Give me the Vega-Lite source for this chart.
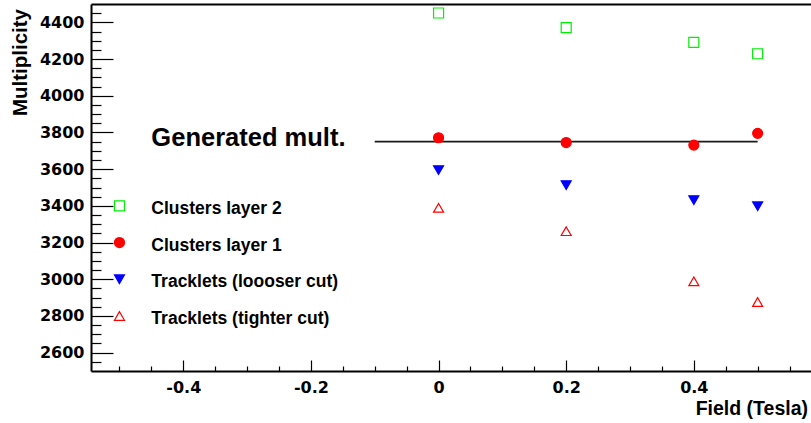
{
  "$schema": "https://vega.github.io/schema/vega-lite/v6.json",
  "width": 720,
  "height": 367,
  "autosize": "none",
  "padding": {"left": 91, "top": 4, "right": 0, "bottom": 52},
  "background": "white",
  "config": {
    "view": {"stroke": null},
    "axis": {
      "grid": false,
      "labelFont": "DejaVu Sans",
      "labelFontWeight": "bold",
      "labelFontSize": 16,
      "labelColor": "black",
      "titleFont": "Liberation Sans",
      "titleFontWeight": "bold",
      "titleColor": "black",
      "domainColor": "black",
      "tickColor": "black"
    }
  },
  "datasets": {
    "points": [
      {"series": "Clusters layer 2", "field": 0, "mult": 4451},
      {"series": "Clusters layer 2", "field": 0.2, "mult": 4371},
      {"series": "Clusters layer 2", "field": 0.4, "mult": 4291},
      {"series": "Clusters layer 2", "field": 0.5, "mult": 4229},
      {"series": "Clusters layer 1", "field": 0, "mult": 3771},
      {"series": "Clusters layer 1", "field": 0.2, "mult": 3745},
      {"series": "Clusters layer 1", "field": 0.4, "mult": 3731},
      {"series": "Clusters layer 1", "field": 0.5, "mult": 3795},
      {"series": "Tracklets (loooser cut)", "field": 0, "mult": 3595},
      {"series": "Tracklets (loooser cut)", "field": 0.2, "mult": 3513},
      {"series": "Tracklets (loooser cut)", "field": 0.4, "mult": 3431},
      {"series": "Tracklets (loooser cut)", "field": 0.5, "mult": 3398},
      {"series": "Tracklets (tighter cut)", "field": 0, "mult": 3389},
      {"series": "Tracklets (tighter cut)", "field": 0.2, "mult": 3262},
      {"series": "Tracklets (tighter cut)", "field": 0.4, "mult": 2989},
      {"series": "Tracklets (tighter cut)", "field": 0.5, "mult": 2876}
    ],
    "legend": [
      {"series": "Clusters layer 2", "field": -0.5, "labelField": -0.45, "mult": 3400},
      {"series": "Clusters layer 1", "field": -0.5, "labelField": -0.45, "mult": 3200},
      {"series": "Tracklets (loooser cut)", "field": -0.5, "labelField": -0.45, "mult": 3000},
      {"series": "Tracklets (tighter cut)", "field": -0.5, "labelField": -0.45, "mult": 2800}
    ],
    "generated": [
      {"label": "Generated mult.", "field": -0.1, "field2": 0.5, "mult": 3750, "labelField": -0.45, "labelMult": 3770}
    ]
  },
  "layer": [
    {
      "data": {"name": "generated"},
      "mark": {"type": "rule", "color": "#1a1a1a", "strokeWidth": 1.6},
      "encoding": {
        "x": {"field": "field", "type": "quantitative",
          "scale": {"domain": [-0.5446, 0.5836], "nice": false, "zero": false},
          "axis": {"orient": "bottom", "values": [-0.4, -0.2, 0, 0.2, 0.4], "ticks": false, "domain": true, "domainWidth": 2,
            "labelPadding": 8, "labelExpr": "'' + datum.value", "labelFlush": false,
            "title": "Field (Tesla)", "titleFontSize": 19.5, "titleX": 716.5, "titleY": 43.7, "titleAlign": "right", "titleBaseline": "alphabetic"}},
        "x2": {"field": "field2"},
        "y": {"field": "mult", "type": "quantitative",
          "scale": {"domain": [2500, 4500], "nice": false, "zero": false},
          "axis": {"orient": "left", "values": [2600, 2800, 3000, 3200, 3400, 3600, 3800, 4000, 4200, 4400], "ticks": false, "domain": true, "domainWidth": 2,
            "labelPadding": 7, "format": "d", "labelFlush": false,
            "title": "Multiplicity", "titleFontSize": 20.5, "titleAngle": -90, "titleX": -65, "titleY": 4.5, "titleAlign": "right", "titleBaseline": "alphabetic"}}
      }
    },
    {
      "data": {"name": "points"},
      "mark": {"type": "point", "strokeWidth": 1.2, "opacity": 1},
      "encoding": {
        "x": {"field": "field", "type": "quantitative",
          "scale": {"domain": [-0.5446, 0.5836], "nice": false, "zero": false},
          "axis": {"orient": "bottom", "values": [-0.4, -0.2, 0, 0.2, 0.4], "labels": false, "domain": false, "ticks": true, "tickSize": -11, "tickWidth": 1.2, "title": null}},
        "y": {"field": "mult", "type": "quantitative",
          "scale": {"domain": [2500, 4500], "nice": false, "zero": false},
          "axis": {"orient": "left", "values": [2600, 2800, 3000, 3200, 3400, 3600, 3800, 4000, 4200, 4400], "labels": false, "domain": false, "ticks": true, "tickSize": -22, "tickWidth": 1.2, "title": null}},
        "shape": {"field": "series", "type": "nominal", "legend": null,
          "scale": {"domain": ["Clusters layer 2", "Clusters layer 1", "Tracklets (loooser cut)", "Tracklets (tighter cut)"], "range": ["square", "circle", "triangle-down", "triangle-up"]}},
        "size": {"field": "series", "type": "nominal", "legend": null,
          "scale": {"domain": ["Clusters layer 2", "Clusters layer 1", "Tracklets (loooser cut)", "Tracklets (tighter cut)"], "range": [100, 100, 125, 135]}},
        "stroke": {"field": "series", "type": "nominal", "legend": null,
          "scale": {"domain": ["Clusters layer 2", "Clusters layer 1", "Tracklets (loooser cut)", "Tracklets (tighter cut)"], "range": ["#00ee00", "#ff0000", "#0000ff", "#ff0000"]}},
        "fill": {"field": "series", "type": "nominal", "legend": null,
          "scale": {"domain": ["Clusters layer 2", "Clusters layer 1", "Tracklets (loooser cut)", "Tracklets (tighter cut)"], "range": ["transparent", "#ff0000", "#0000ff", "transparent"]}}
      }
    },
    {
      "data": {"name": "legend"},
      "mark": {"type": "point", "strokeWidth": 1.2, "opacity": 1},
      "encoding": {
        "x": {"field": "field", "type": "quantitative",
          "scale": {"domain": [-0.5446, 0.5836], "nice": false, "zero": false},
          "axis": {"orient": "bottom", "values": [-0.5, -0.45, -0.35, -0.3, -0.25, -0.15, -0.1, -0.05, 0.05, 0.1, 0.15, 0.25, 0.3, 0.35, 0.45, 0.5, 0.55], "labels": false, "domain": false, "ticks": true, "tickSize": -5, "tickWidth": 1.2, "title": null}},
        "y": {"field": "mult", "type": "quantitative",
          "scale": {"domain": [2500, 4500], "nice": false, "zero": false},
          "axis": {"orient": "left", "values": [2550, 2650, 2700, 2750, 2850, 2900, 2950, 3050, 3100, 3150, 3250, 3300, 3350, 3450, 3500, 3550, 3650, 3700, 3750, 3850, 3900, 3950, 4050, 4100, 4150, 4250, 4300, 4350, 4450], "labels": false, "domain": false, "ticks": true, "tickSize": -10, "tickWidth": 1.2, "title": null}},
        "shape": {"field": "series", "type": "nominal", "legend": null},
        "size": {"field": "series", "type": "nominal", "legend": null},
        "stroke": {"field": "series", "type": "nominal", "legend": null},
        "fill": {"field": "series", "type": "nominal", "legend": null}
      }
    },
    {
      "data": {"name": "legend"},
      "mark": {"type": "text", "align": "left", "baseline": "middle", "dy": 3, "font": "Liberation Sans", "fontWeight": "bold", "fontSize": 17.5, "color": "black"},
      "encoding": {
        "x": {"field": "labelField", "type": "quantitative",
          "scale": {"domain": [-0.5446, 0.5836], "nice": false, "zero": false},
          "axis": {"orient": "top", "domain": true, "domainWidth": 2, "ticks": false, "labels": false, "title": null}},
        "y": {"field": "mult", "type": "quantitative",
          "scale": {"domain": [2500, 4500], "nice": false, "zero": false}, "axis": null},
        "text": {"field": "series"}
      }
    },
    {
      "data": {"name": "generated"},
      "mark": {"type": "text", "align": "left", "baseline": "middle", "font": "Liberation Sans", "fontWeight": "bold", "fontSize": 25.5, "color": "black"},
      "encoding": {
        "x": {"field": "labelField", "type": "quantitative",
          "scale": {"domain": [-0.5446, 0.5836], "nice": false, "zero": false}, "axis": null},
        "y": {"field": "labelMult", "type": "quantitative",
          "scale": {"domain": [2500, 4500], "nice": false, "zero": false}, "axis": null},
        "text": {"field": "label"}
      }
    }
  ],
  "resolve": {"axis": {"x": "independent", "y": "independent"}}
}
